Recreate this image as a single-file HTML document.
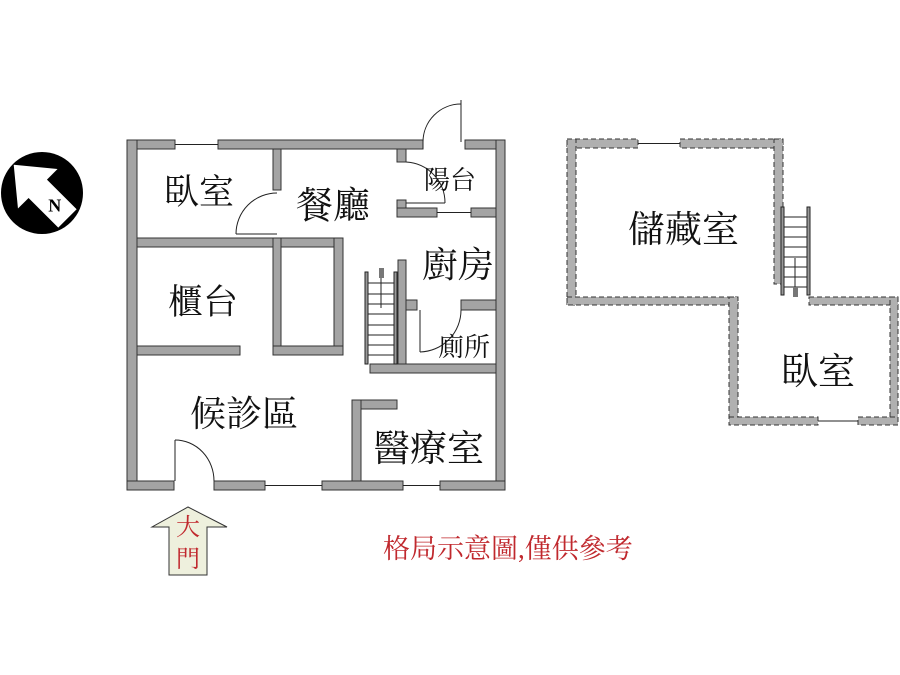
<!DOCTYPE html>
<html><head><meta charset="utf-8"><style>
html,body{margin:0;padding:0;background:#fff;width:900px;height:675px;overflow:hidden}
svg{display:block}
text{font-family:"Liberation Serif","Noto Serif CJK SC",serif}
</style></head><body>
<svg width="900" height="675" viewBox="0 0 900 675" xmlns="http://www.w3.org/2000/svg">
<g fill="#a4a4a4" stroke="#333" stroke-width="1">
<rect x="127" y="140" width="48" height="9"/>
<rect x="218" y="140" width="205" height="9"/>
<rect x="465" y="140" width="40" height="9"/>
<rect x="127" y="140" width="10" height="350"/>
<rect x="496" y="140" width="9" height="350"/>
<rect x="127" y="481" width="47" height="9"/>
<rect x="214" y="481" width="51" height="9"/>
<rect x="322" y="481" width="81" height="9"/>
<rect x="440" y="481" width="65" height="9"/>
<rect x="273" y="149" width="8" height="41"/>
<rect x="137" y="238" width="136" height="9"/>
<rect x="273" y="238" width="70" height="9"/>
<rect x="273" y="238" width="8" height="117"/>
<rect x="334" y="238" width="9" height="117"/>
<rect x="273" y="346" width="70" height="9"/>
<rect x="137" y="346" width="103" height="9"/>
<rect x="397" y="149" width="9" height="13"/>
<rect x="397" y="200" width="9" height="17"/>
<rect x="397" y="208" width="40" height="9"/>
<rect x="471" y="208" width="25" height="9"/>
<rect x="398" y="260" width="8" height="107"/>
<rect x="406" y="300" width="11" height="10"/>
<rect x="461" y="300" width="35" height="10"/>
<rect x="370" y="364" width="126" height="9"/>
<rect x="352" y="400" width="45" height="9"/>
<rect x="352" y="400" width="9" height="81"/>
</g>
<g fill="none" stroke="#222" stroke-width="1">
<line x1="175" y1="144.5" x2="218" y2="144.5"/>
<line x1="265" y1="485.5" x2="322" y2="485.5"/>
<line x1="403" y1="485.5" x2="440" y2="485.5"/>
<line x1="437" y1="212.5" x2="471" y2="212.5"/>
<line x1="423" y1="140" x2="423" y2="149"/>
<line x1="461" y1="100" x2="461" y2="142"/><path d="M423,142 A38,38 0 0 1 461,104"/>
<line x1="236" y1="234" x2="277" y2="234"/><path d="M236,234 A41,41 0 0 1 277,193"/>
<line x1="406" y1="203" x2="445" y2="203"/><path d="M406,162 A41,41 0 0 1 445,203"/>
<line x1="420" y1="310" x2="420" y2="352"/><path d="M420,352 A42,42 0 0 0 461,310"/>
<line x1="175" y1="440" x2="175" y2="481"/><path d="M175,440 A39,41 0 0 1 214,481"/>
</g>
<g stroke="#222" fill="none">
<rect x="365" y="272" width="3" height="92" fill="#999"/>
<rect x="394" y="272" width="3" height="92" fill="#999"/>
<path d="M368,283h26M368,294h26M368,304h26M368,314h26M368,325h26M368,335h26M368,345h26M368,355h26"/>
<line x1="381" y1="270" x2="381" y2="308"/>
</g>
<rect x="379" y="268" width="5" height="10" fill="#777"/>
<g fill="#b0b0b0" stroke="#333" stroke-width="1" stroke-dasharray="5,3">
<rect x="567" y="139" width="71" height="9"/>
<rect x="680" y="139" width="103" height="9"/>
<rect x="567" y="139" width="9" height="166"/>
<rect x="774" y="139" width="9" height="145"/>
<rect x="567" y="297" width="171" height="8"/>
<rect x="729" y="297" width="9" height="128"/>
<rect x="809" y="297" width="89" height="8"/>
<rect x="890" y="297" width="8" height="128"/>
<rect x="729" y="417" width="89" height="8"/>
<rect x="858" y="417" width="40" height="8"/>
</g>
<g stroke="#222" fill="none">
<line x1="638" y1="143.5" x2="680" y2="143.5"/>
<line x1="818" y1="421" x2="858" y2="421"/>
<rect x="781" y="207" width="3" height="88" fill="#999"/>
<rect x="807" y="207" width="3" height="88" fill="#999"/>
<path d="M784,217h23M784,227h23M784,237h23M784,247h23M784,257h23M784,267h23M784,277h23M784,287h23"/>
<line x1="795" y1="258" x2="795" y2="292"/>
</g>
<rect x="793" y="287" width="5" height="10" fill="#777"/>
<circle cx="42" cy="193" r="41" fill="#000"/>
<g transform="translate(42,193) rotate(-45)">
<polygon points="0,-40 -28,-6 -13,-6 -13,36 13,36 13,-6 28,-6" fill="#fff"/>
<text x="0" y="24" font-size="18" font-weight="bold" text-anchor="middle" fill="#000" font-family="Liberation Sans" transform="rotate(45 0 18)">N</text>
</g>
<polygon points="188,507 227,527 207,527 207,575 169,575 169,527 152,527" fill="#eef0dd" stroke="#333"/>
<text x="188" y="535" font-size="24" fill="#c0282d" text-anchor="middle">大</text>
<text x="188" y="567" font-size="24" fill="#c0282d" text-anchor="middle">門</text>
<g fill="#111">
<text x="164" y="204" font-size="35">臥室</text>
<text x="296" y="218" font-size="37">餐廳</text>
<text x="424" y="189" font-size="26">陽台</text>
<text x="422" y="277" font-size="36">廚房</text>
<text x="438" y="356" font-size="26">廁所</text>
<text x="168" y="314" font-size="35">櫃台</text>
<text x="190" y="426" font-size="36">候診區</text>
<text x="373" y="461" font-size="37">醫療室</text>
<text x="628" y="242" font-size="37">儲藏室</text>
<text x="781" y="384" font-size="37">臥室</text>
</g>
<text x="383" y="558" font-size="27" fill="#c0282d">格局示意圖,僅供參考</text>
</svg>
</body></html>
